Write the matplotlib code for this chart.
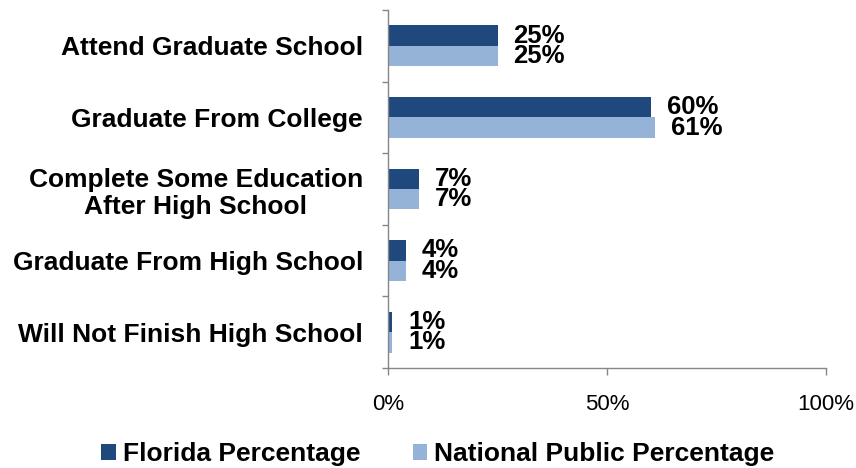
import matplotlib
matplotlib.use("Agg")
import matplotlib.pyplot as plt
import numpy as np
from matplotlib.ticker import FuncFormatter

categories = [
    "Attend Graduate School",
    "Graduate From College",
    "Complete Some Education\nAfter High School",
    "Graduate From High School",
    "Will Not Finish High School",
]
florida = [25, 60, 7, 4, 1]
national = [25, 61, 7, 4, 1]
series_names = ["Florida Percentage", "National Public Percentage"]
x_ticks = [0, 50, 100]

dark = "#1F497D"
light = "#95B3D7"
gray = "#868686"

plt.rcParams["font.family"] = ["Liberation Sans", "DejaVu Sans"]

fig = plt.figure(figsize=(8.56, 4.68), dpi=100)
ax = fig.add_axes([388 / 856, 1 - 368 / 468, (826 - 388) / 856, (368 - 10) / 468])

y = np.arange(len(categories))
h = 0.286
b1 = ax.barh(y - h / 2, florida, height=h, color=dark, label=series_names[0])
b2 = ax.barh(y + h / 2, national, height=h, color=light, label=series_names[1])

for bars in (b1, b2):
    ax.bar_label(bars, labels=[f"{v:.0f}%" for v in bars.datavalues],
                 padding=11.5, fontsize=18.5, fontweight="bold", color="black")

ax.set_xlim(0, 100)
ax.set_ylim(len(categories) - 0.5, -0.5)
ax.set_xticks(x_ticks)
ax.xaxis.set_major_formatter(FuncFormatter(lambda v, p: f"{v:.0f}%"))
ax.set_yticks(y)
ax.set_yticklabels(categories, fontsize=19, fontweight="bold", multialignment="center")
ax.set_yticks(np.arange(-0.5, len(categories)), minor=True)

ax.tick_params(axis="y", which="major", length=0, pad=18)
ax.tick_params(axis="y", which="minor", length=4.5, width=1, color=gray, direction="out")
ax.tick_params(axis="x", which="major", length=5, width=1, color=gray, direction="out",
               pad=13.5, labelsize=16)

for s in ("top", "right"):
    ax.spines[s].set_visible(False)
for s in ("left", "bottom"):
    ax.spines[s].set_color(gray)
    ax.spines[s].set_linewidth(1)

fig.legend(handles=[b1, b2], labels=series_names, loc="center",
           bbox_to_anchor=(438 / 856, 1 - 454 / 468), ncol=2, frameon=False,
           prop={"size": 19, "weight": "bold"}, handlelength=0.54, handleheight=0.54,
           handletextpad=0.27, columnspacing=2.0, borderaxespad=0)

fig.savefig("out.png", dpi=100)
